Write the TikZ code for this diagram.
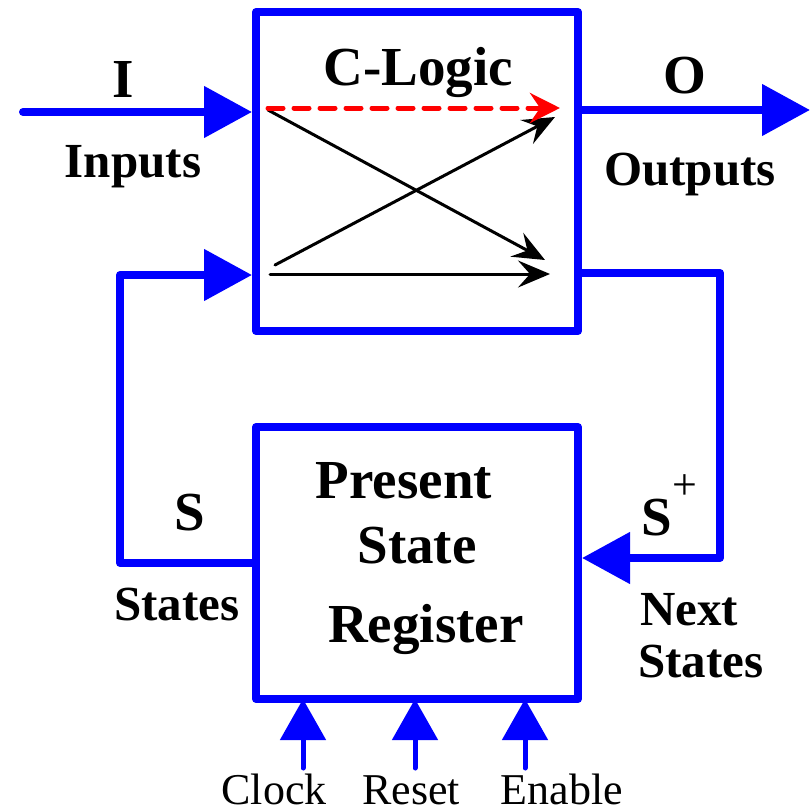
\documentclass[tikz,border=0pt]{standalone}
\usepackage{fontspec}
\setmainfont{Liberation Serif}[BoldFont={Liberation Serif Bold},ItalicFont={Liberation Serif Italic}]
\usetikzlibrary{arrows.meta}
\begin{document}
\begin{tikzpicture}[x=1pt,y=-1pt,
  blk/.style={draw=blue, line width=8pt, outer sep=0pt, inner sep=0pt, line join=round},
  bus/.style={blue, line width=8pt, line join=round, -{Triangle[length=48pt,width=50pt]}},
  tobox/.style={shorten >=4pt},
  ctl/.style={blue, line width=5pt, line cap=round, -{Triangle[length=41pt,width=45pt]}},
  wire/.style={black, line width=3pt, line cap=round, -{Stealth[length=32pt,width=27pt,inset=12pt]}},
  redw/.style={red, line width=5pt, line cap=round, dash pattern=on 15pt off 11pt, -{Stealth[length=30pt,width=30pt,inset=10pt]}},
  big/.style={font=\fontsize{55}{60}\selectfont\bfseries, inner sep=0pt, anchor=base},
  lab/.style={font=\fontsize{49}{54}\selectfont\bfseries, inner sep=0pt, anchor=base},
  sig/.style={font=\fontsize{44}{48}\selectfont, inner sep=0pt, anchor=base}]
\useasboundingbox (0,0) rectangle (810,811);

% boxes
\node[blk, minimum width=322pt, minimum height=319pt] (cl) at (417,171.5) {};
\node[blk, minimum width=322pt, minimum height=272pt] (reg) at (417,563) {};

% coordinates
\coordinate (inS) at (23,112);
\coordinate (outE) at (810,110);
\coordinate (sL) at (120,563);
\coordinate (sT) at (120,275);
\coordinate (nT) at (720,273);
\coordinate (nB) at (720,558);
\coordinate (ck) at (303,768);
\coordinate (rs) at (415,768);
\coordinate (en) at (525,768);
\coordinate (a1) at (268,110);
\coordinate (a2) at (545,260);
\coordinate (b1) at (275,265);
\coordinate (b2) at (555,117);
\coordinate (c1) at (270,274);
\coordinate (c2) at (550,274);
\coordinate (r1) at (268,108);
\coordinate (r2) at (560,108);

% buses
\draw[bus, line cap=round, tobox] (inS) -- (inS -| cl.west);
\draw[bus] (cl.east |- outE) -- (outE);
\draw[bus, tobox] (reg.west) -- (sL) -- (sT) -- (sT -| cl.west);
\draw[bus, tobox] (nT -| cl.east) -- (nT) -- (nB) -- (nB -| reg.east);

% control inputs
\draw[ctl] (ck) -- (ck |- reg.south);
\draw[ctl] (rs) -- (rs |- reg.south);
\draw[ctl] (en) -- (en |- reg.south);

% internal logic
\draw[wire] (a1) -- (a2);
\draw[wire] (b1) -- (b2);
\draw[wire] (c1) -- (c2);
\draw[redw] (r1) -- (r2);

% labels
\node[big] (tC) at (418,85) {C-Logic};
\node[big] (tI) at (123,97) {I};
\node[lab] (tIn) at (133,177) {Inputs};
\node[big] (tO) at (685,93) {O};
\node[lab] (tOut) at (690,185) {Outputs};
\node[big] (tS) at (190,530) {S};
\node[lab] (tSt) at (177,620) {States};
\node[big] (tSp) at (657,535) {S};
\node[sig] (tPl) at (685,499) {+};
\node[lab, anchor=base west] (tNx) at (640,625) {Next};
\node[lab, anchor=base west] (tNs) at (638,677) {States};
\node[big] (tP1) at (404,498) {Present};
\node[big] (tP2) at (417,563) {State};
\node[big] (tP3) at (426,642) {Register};
\node[sig] (tCk) at (274,804) {Clock};
\node[sig] (tRs) at (411,804) {Reset};
\node[sig] (tEn) at (562,804) {Enable};
\end{tikzpicture}
\end{document}
